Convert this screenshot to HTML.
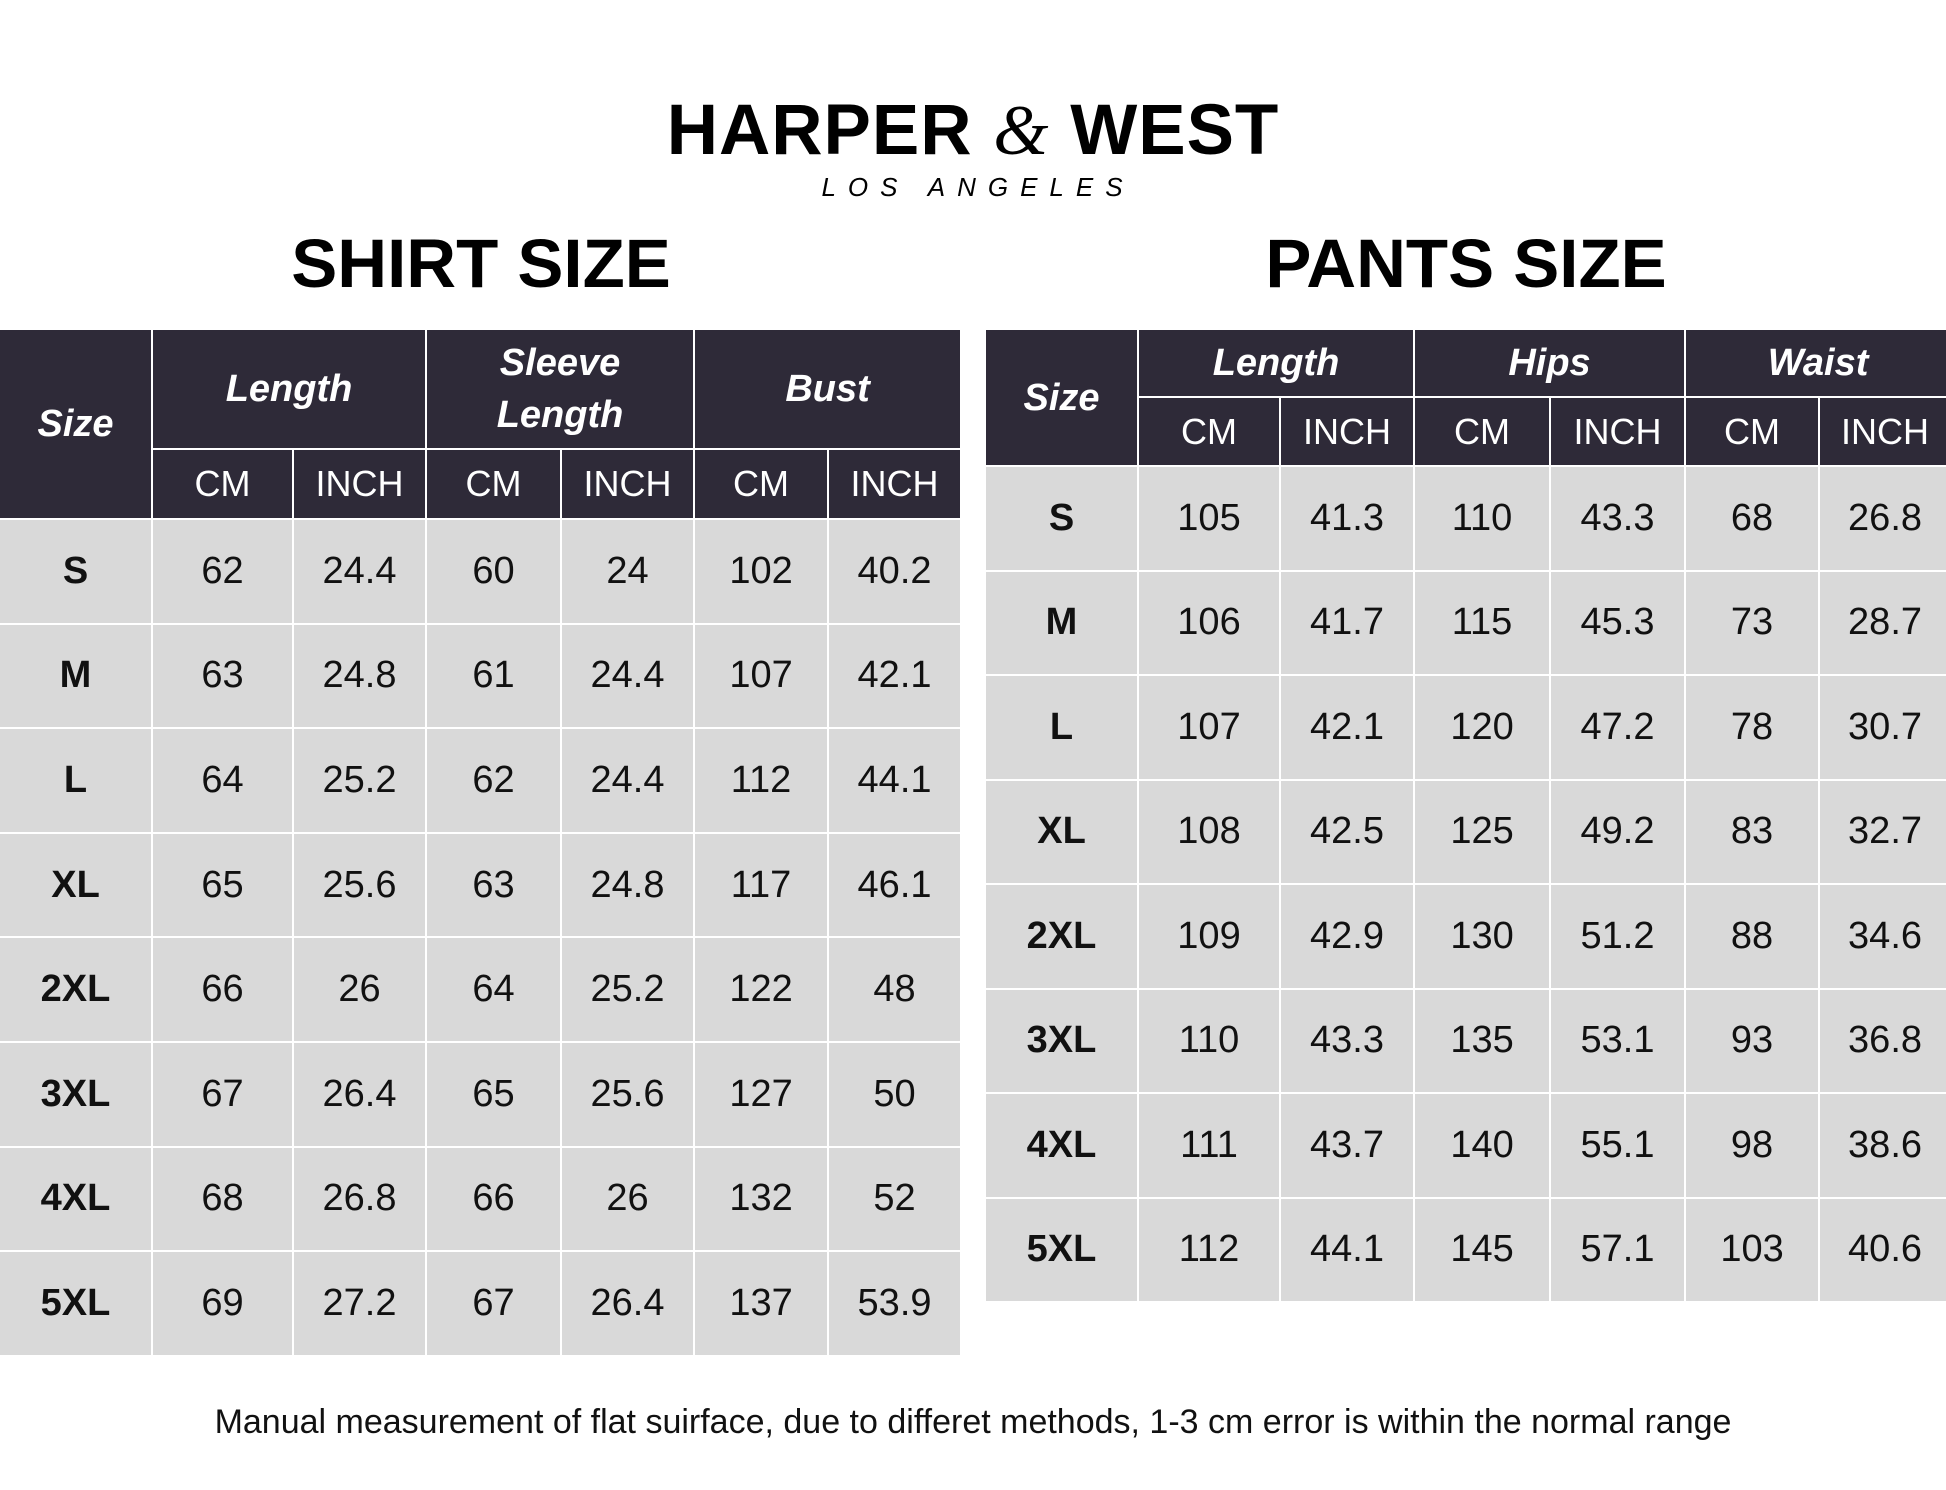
<!DOCTYPE html>
<html><head><meta charset="utf-8"><style>
html,body{margin:0;padding:0;background:#fff;}
body{width:1946px;height:1490px;position:relative;overflow:hidden;font-family:"Liberation Sans",sans-serif;}
.abs{position:absolute;}
table{position:absolute;border-collapse:collapse;table-layout:fixed;}
td{border:2px solid #fff;text-align:center;vertical-align:middle;padding:0;color:#111;background:#d9d9d9;font-size:38px;}
th{border:2px solid #fff;background:#2e2a38;color:#fff;padding:0;text-align:center;vertical-align:middle;}
th.g{font-style:italic;font-weight:bold;font-size:38px;line-height:52px;}
th.u{font-weight:normal;font-size:36px;}
td.s{font-weight:bold;}
</style></head><body>
<div class="abs" style="left:0;width:1946px;top:90px;text-align:center;font-size:71px;font-weight:bold;letter-spacing:1px;color:#000;">HARPER <span style="font-weight:normal;font-style:italic;font-family:'Liberation Serif',serif;">&amp;</span> WEST</div>
<div class="abs" style="left:0;width:1946px;top:172px;text-align:center;font-size:26px;font-style:italic;letter-spacing:12px;color:#000;padding-left:10px;box-sizing:border-box;">LOS ANGELES</div>
<div class="abs" style="left:0;width:962px;top:224px;text-align:center;font-size:69px;font-weight:bold;color:#000;">SHIRT SIZE</div>
<div class="abs" style="left:985px;width:962px;top:224px;text-align:center;font-size:69px;font-weight:bold;color:#000;">PANTS SIZE</div>

<table style="left:-2px;top:328px;width:962px;">
<colgroup><col style="width:153px"><col style="width:141px"><col style="width:133px"><col style="width:135px"><col style="width:133px"><col style="width:134px"><col style="width:133px"></colgroup>
<tr style="height:120px"><th class="g" rowspan="2">Size</th><th class="g" colspan="2">Length</th><th class="g" colspan="2">Sleeve<br>Length</th><th class="g" colspan="2">Bust</th></tr>
<tr style="height:70px"><th class="u">CM</th><th class="u">INCH</th><th class="u">CM</th><th class="u">INCH</th><th class="u">CM</th><th class="u">INCH</th></tr>
<tr style="height:104.6px"><td class="s">S</td><td>62</td><td>24.4</td><td>60</td><td>24</td><td>102</td><td>40.2</td></tr>
<tr style="height:104.6px"><td class="s">M</td><td>63</td><td>24.8</td><td>61</td><td>24.4</td><td>107</td><td>42.1</td></tr>
<tr style="height:104.6px"><td class="s">L</td><td>64</td><td>25.2</td><td>62</td><td>24.4</td><td>112</td><td>44.1</td></tr>
<tr style="height:104.6px"><td class="s">XL</td><td>65</td><td>25.6</td><td>63</td><td>24.8</td><td>117</td><td>46.1</td></tr>
<tr style="height:104.6px"><td class="s">2XL</td><td>66</td><td>26</td><td>64</td><td>25.2</td><td>122</td><td>48</td></tr>
<tr style="height:104.6px"><td class="s">3XL</td><td>67</td><td>26.4</td><td>65</td><td>25.6</td><td>127</td><td>50</td></tr>
<tr style="height:104.6px"><td class="s">4XL</td><td>68</td><td>26.8</td><td>66</td><td>26</td><td>132</td><td>52</td></tr>
<tr style="height:104.6px"><td class="s">5XL</td><td>69</td><td>27.2</td><td>67</td><td>26.4</td><td>137</td><td>53.9</td></tr>
</table>

<table style="left:984px;top:328px;width:966px;">
<colgroup><col style="width:153px"><col style="width:142px"><col style="width:134px"><col style="width:136px"><col style="width:135px"><col style="width:134px"><col style="width:132px"></colgroup>
<tr style="height:68px"><th class="g" rowspan="2">Size</th><th class="g" colspan="2">Length</th><th class="g" colspan="2">Hips</th><th class="g" colspan="2">Waist</th></tr>
<tr style="height:69px"><th class="u">CM</th><th class="u">INCH</th><th class="u">CM</th><th class="u">INCH</th><th class="u">CM</th><th class="u">INCH</th></tr>
<tr style="height:104.5px"><td class="s">S</td><td>105</td><td>41.3</td><td>110</td><td>43.3</td><td>68</td><td>26.8</td></tr>
<tr style="height:104.5px"><td class="s">M</td><td>106</td><td>41.7</td><td>115</td><td>45.3</td><td>73</td><td>28.7</td></tr>
<tr style="height:104.5px"><td class="s">L</td><td>107</td><td>42.1</td><td>120</td><td>47.2</td><td>78</td><td>30.7</td></tr>
<tr style="height:104.5px"><td class="s">XL</td><td>108</td><td>42.5</td><td>125</td><td>49.2</td><td>83</td><td>32.7</td></tr>
<tr style="height:104.5px"><td class="s">2XL</td><td>109</td><td>42.9</td><td>130</td><td>51.2</td><td>88</td><td>34.6</td></tr>
<tr style="height:104.5px"><td class="s">3XL</td><td>110</td><td>43.3</td><td>135</td><td>53.1</td><td>93</td><td>36.8</td></tr>
<tr style="height:104.5px"><td class="s">4XL</td><td>111</td><td>43.7</td><td>140</td><td>55.1</td><td>98</td><td>38.6</td></tr>
<tr style="height:104.5px"><td class="s">5XL</td><td>112</td><td>44.1</td><td>145</td><td>57.1</td><td>103</td><td>40.6</td></tr>
</table>

<div class="abs" style="left:0;width:1946px;top:1403px;text-align:center;font-size:34px;color:#111;">Manual measurement of flat suirface, due to differet methods, 1-3 cm error is within the normal range</div>
</body></html>
